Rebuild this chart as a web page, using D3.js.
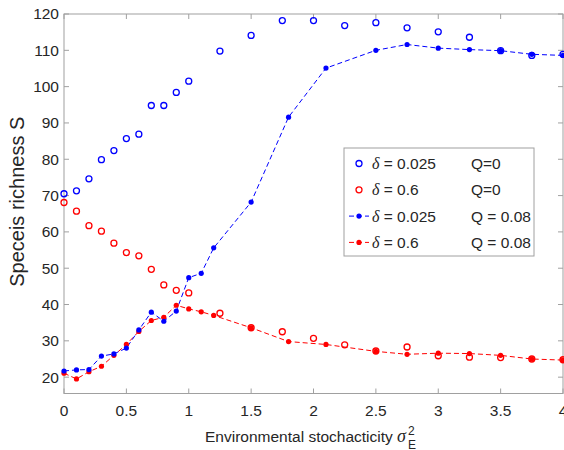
<!DOCTYPE html>
<html>
<head>
<meta charset="utf-8">
<script src="https://cdn.jsdelivr.net/npm/d3@7"></script>
<style>
  body { margin: 0; background: #fff; }
  svg text { font-family: "Liberation Sans", Arial, sans-serif; fill: #262626; }
</style>
</head>
<body>
<div id="chart"></div>
<script>
// x positions for the Q=0 runs and the Q=0.08 runs
let xOpen = [0, 0.1, 0.2, 0.3, 0.4, 0.5, 0.6, 0.7, 0.8, 0.9, 1.0, 1.25, 1.5, 1.75, 2, 2.25, 2.5, 2.75, 3, 3.25, 3.5, 3.75, 4];
let xQ = [0, 0.1, 0.2, 0.3, 0.4, 0.5, 0.6, 0.7, 0.8, 0.9, 1.0, 1.1, 1.2, 1.5, 1.8, 2.1, 2.5, 2.75, 3, 3.25, 3.5, 3.75, 4];

// species richness
let blueOpen = [70.5, 71.3, 74.6, 79.9, 82.4, 85.7, 86.9, 94.8, 94.8, 98.4, 101.5, 109.8, 114.1, 118.2, 118.2, 116.8, 117.6, 116.2, 115.1, 113.6, 109.9, 108.6, 108.9];
let redOpen = [68.1, 65.7, 61.7, 60.2, 56.9, 54.3, 53.4, 49.7, 45.4, 43.9, 43.2, 37.6, 33.6, 32.5, 30.7, 28.9, 27.2, 28.3, 25.9, 25.5, 25.4, 25.0, 24.8];
let blueQ = [21.7, 22.0, 22.1, 25.8, 26.4, 28.0, 33.0, 37.9, 35.4, 38.2, 47.4, 48.6, 55.6, 68.2, 91.6, 105.1, 110.0, 111.6, 110.6, 110.2, 109.9, 108.9, 108.6];
let redQ = [21.1, 19.5, 21.5, 23.0, 26.0, 29.0, 32.6, 35.6, 36.5, 39.8, 38.8, 38.0, 37.0, 33.6, 29.8, 29.0, 27.1, 26.3, 26.6, 26.5, 26.0, 25.0, 24.7];

let xTicks = [0, 0.5, 1, 1.5, 2, 2.5, 3, 3.5, 4];
let yTicks = [20, 30, 40, 50, 60, 70, 80, 90, 100, 110, 120];

let legendDelta = ["0.025", "0.6", "0.025", "0.6"];
let legendQ = ["Q=0", "Q=0", "Q = 0.08", "Q = 0.08"];

let width = 564, height = 450;
let margin = {top: 14, right: 1, bottom: 56.5, left: 64};
let plotW = width - margin.left - margin.right;
let plotH = height - margin.top - margin.bottom;

let BLUE = "#0000ff", RED = "#ff0000", AXIS = "#a0a0a0";

let root = d3.select("#chart").append("svg")
    .attr("width", width)
    .attr("height", height);

let svg = root.append("g")
    .attr("transform", `translate(${margin.left},${margin.top})`);

let x = d3.scaleLinear().domain([0, 4]).range([0, plotW]);
let y = d3.scaleLinear().domain([15.5, 120]).range([plotH, 0]);

// box with inward ticks on all sides
svg.append("rect")
    .attr("width", plotW).attr("height", plotH)
    .attr("fill", "none").attr("stroke", AXIS).attr("stroke-width", 1);

let tickLen = 5;
svg.append("g").selectAll("line").data(xTicks).enter().append("line")
    .attr("x1", d => x(d)).attr("x2", d => x(d))
    .attr("y1", plotH).attr("y2", plotH - tickLen)
    .attr("stroke", AXIS);
svg.append("g").selectAll("line").data(xTicks).enter().append("line")
    .attr("x1", d => x(d)).attr("x2", d => x(d))
    .attr("y1", 0).attr("y2", tickLen)
    .attr("stroke", AXIS);
svg.append("g").selectAll("line").data(yTicks).enter().append("line")
    .attr("y1", d => y(d)).attr("y2", d => y(d))
    .attr("x1", 0).attr("x2", tickLen)
    .attr("stroke", AXIS);
svg.append("g").selectAll("line").data(yTicks).enter().append("line")
    .attr("y1", d => y(d)).attr("y2", d => y(d))
    .attr("x1", plotW).attr("x2", plotW - tickLen)
    .attr("stroke", AXIS);

// tick labels
svg.append("g").selectAll("text").data(xTicks).enter().append("text")
    .attr("x", d => x(d))
    .attr("y", plotH + 22)
    .style("font-size", "15.5px")
    .style("text-anchor", "middle")
    .text(d => d);
svg.append("g").selectAll("text").data(yTicks).enter().append("text")
    .attr("x", -5)
    .attr("y", d => y(d))
    .attr("dy", "0.35em")
    .style("font-size", "15.5px")
    .style("text-anchor", "end")
    .text(d => d);

// y label
svg.append("text")
    .attr("transform", `translate(-40, ${plotH / 2 - 2}) rotate(-90)`)
    .style("font-size", "20px")
    .style("text-anchor", "middle")
    .text("Speceis richness S");

// x label with sigma_E^2
let xl = svg.append("text")
    .attr("x", plotW / 2 - 8)
    .attr("y", plotH + 48)
    .style("font-size", "15.5px")
    .style("text-anchor", "middle");
xl.append("tspan").text("Environmental stochacticity ");
xl.append("tspan")
    .style("font-family", "'Liberation Serif', 'DejaVu Serif', serif")
    .style("font-style", "italic")
    .style("font-size", "18px")
    .text("σ");
let xb = xl.node().getBBox();
svg.append("text")
    .attr("x", xb.x + xb.width + 1).attr("y", plotH + 41)
    .style("font-size", "12px")
    .text("2");
svg.append("text")
    .attr("x", xb.x + xb.width + 1).attr("y", plotH + 55)
    .style("font-size", "12px")
    .text("E");

// dashed lines for Q = 0.08
let lineQ = vals => d3.line()
    .x((d, i) => x(xQ[i]))
    .y(d => y(d))(vals);

svg.append("path")
    .attr("d", lineQ(redQ))
    .attr("fill", "none").attr("stroke", RED)
    .attr("stroke-width", 1).attr("stroke-dasharray", "5,3");
svg.append("path")
    .attr("d", lineQ(blueQ))
    .attr("fill", "none").attr("stroke", BLUE)
    .attr("stroke-width", 1).attr("stroke-dasharray", "5,3");

// open circles for Q = 0
function openDots(vals, color) {
    svg.append("g").selectAll("circle").data(vals).enter().append("circle")
        .attr("cx", (d, i) => x(xOpen[i]))
        .attr("cy", d => y(d))
        .attr("r", 3)
        .attr("fill", "none")
        .attr("stroke", color)
        .attr("stroke-width", 1.3);
}
function filledDots(vals, color) {
    svg.append("g").selectAll("circle").data(vals).enter().append("circle")
        .attr("cx", (d, i) => x(xQ[i]))
        .attr("cy", d => y(d))
        .attr("r", 2.6)
        .attr("fill", color);
}
openDots(blueOpen, BLUE);
openDots(redOpen, RED);
filledDots(redQ, RED);
filledDots(blueQ, BLUE);

// legend
let lg = root.append("g").attr("transform", "translate(344,148)");
lg.append("rect")
    .attr("width", 190).attr("height", 108)
    .attr("fill", "#fff").attr("stroke", AXIS);

let legendColor = [BLUE, RED, BLUE, RED];
let rowY = i => 15.5 + i * 26.3;
legendDelta.forEach(function(dv, i) {
    let g = lg.append("g").attr("transform", `translate(0,${rowY(i)})`);
    if (i >= 2) {
        g.append("line")
            .attr("x1", 5).attr("x2", 25)
            .attr("stroke", legendColor[i]).attr("stroke-width", 1)
            .attr("stroke-dasharray", "5,3");
        g.append("circle").attr("cx", 15).attr("r", 2.6).attr("fill", legendColor[i]);
    } else {
        g.append("circle").attr("cx", 15).attr("r", 3)
            .attr("fill", "none").attr("stroke", legendColor[i]).attr("stroke-width", 1.3);
    }
    let t = g.append("text").attr("x", 28).attr("dy", "0.35em").style("font-size", "15.5px");
    t.append("tspan")
        .style("font-family", "'Liberation Serif', 'DejaVu Serif', serif")
        .style("font-style", "italic")
        .style("font-size", "16px")
        .text("δ");
    t.append("tspan").text(" = " + dv);
    g.append("text").attr("x", 127).attr("dy", "0.35em")
        .style("font-size", "15.5px")
        .text(legendQ[i]);
});
</script>
</body>
</html>
